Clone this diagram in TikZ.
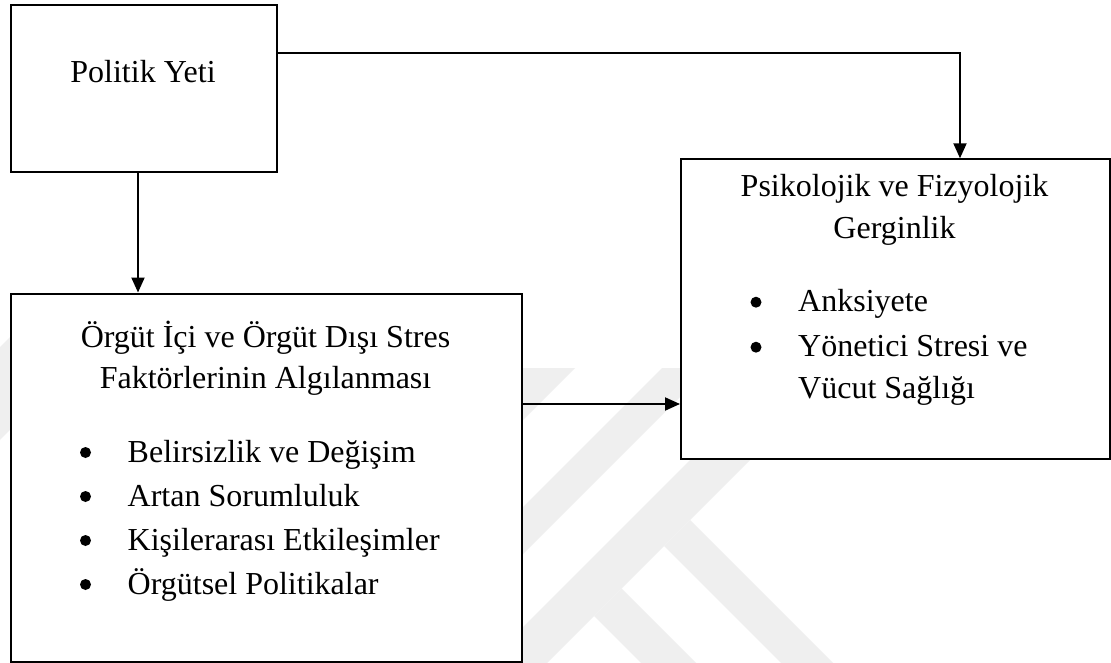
\documentclass[tikz,border=0pt]{standalone}
\usepackage{fontspec}
\setmainfont{Liberation Serif}
\usetikzlibrary{arrows.meta}
\definecolor{wm}{RGB}{239,239,239}
\begin{document}
\begin{tikzpicture}[x=1pt,y=-1pt,
  box/.style={draw, line width=2pt, fill=white, rectangle, inner sep=0pt, anchor=north west},
  txt/.style={inner sep=0pt, font=\fontsize{32}{38}\selectfont},
  bul/.style={circle, fill, inner sep=0pt, minimum size=11pt},
  arr/.style={line width=2pt, -{Triangle[length=15pt,width=13pt]}},
  band/.style={fill=wm}]
% canvas
\fill[white] (0,0) rectangle (1111,663);
\useasboundingbox (0,0) rectangle (1111,663);
% faint watermark bands
\fill[band] (523,368) -- (575,368) -- (463,480) -- (411,480) -- cycle;
\fill[band] (662,368) -- (709,368) -- (477,600) -- (430,600) -- cycle;
\fill[band] (782,368) -- (842,368) -- (547,663) -- (487,663) -- cycle;
\fill[band] (664,546) -- (690,520) -- (833,663) -- (781,663) -- cycle;
\fill[band] (594,616) -- (621.5,588.5) -- (696,663) -- (641,663) -- cycle;
\fill[band] (0,347) -- (50,297) -- (140,297) -- (0,440) -- cycle;
% boxes
\node[box, minimum width=266pt, minimum height=167pt] (b1) at (10,4) {};
\node[box, minimum width=511pt, minimum height=368.5pt] (b2) at (10,292.5) {};
\node[box, minimum width=429pt, minimum height=300pt] (b3) at (680,158.3) {};
% box 1 text
\node[txt, anchor=base] (t1) at (143,82.7) {Politik Yeti};
% box 2 text
\node[txt, anchor=base] (t2a) at (265.5,347.5) {Örgüt İçi ve Örgüt Dışı Stres};
\node[txt, anchor=base] (t2b) at (265.5,388.5) {Faktörlerinin Algılanması};
\node[bul] (u21) at (85.5,452.5) {};
\node[bul] (u22) at (85.5,496.5) {};
\node[bul] (u23) at (85.5,540.5) {};
\node[bul] (u24) at (85.5,584.5) {};
\node[txt, anchor=base west] (l21) at (127.5,462) {Belirsizlik ve Değişim};
\node[txt, anchor=base west] (l22) at (127.5,506) {Artan Sorumluluk};
\node[txt, anchor=base west] (l23) at (127.5,550) {Kişilerarası Etkileşimler};
\node[txt, anchor=base west] (l24) at (127.5,594) {Örgütsel Politikalar};
% box 3 text
\node[txt, anchor=base] (t3a) at (894.5,196.7) {Psikolojik ve Fizyolojik};
\node[txt, anchor=base] (t3b) at (894.5,239) {Gerginlik};
\node[bul] (u31) at (756,302.2) {};
\node[bul] (u32) at (756,347.2) {};
\node[txt, anchor=base west] (l31) at (798,311.7) {Anksiyete};
\node[txt, anchor=base west] (l32) at (798,356.7) {Yönetici Stresi ve};
\node[txt, anchor=base west] (l33) at (798,398.3) {Vücut Sağlığı};
% connectors
\draw[arr] ([xshift=-6pt]b1.south) -- ([xshift=-6pt]b1.south |- b2.north);
\draw[arr] ([yshift=35.8pt]b1.east) -| ([xshift=64.5pt]b3.north);
\draw[arr] ([yshift=73.75pt]b2.east) -- ([yshift=73.75pt]b2.east -| b3.west);
\end{tikzpicture}
\end{document}
